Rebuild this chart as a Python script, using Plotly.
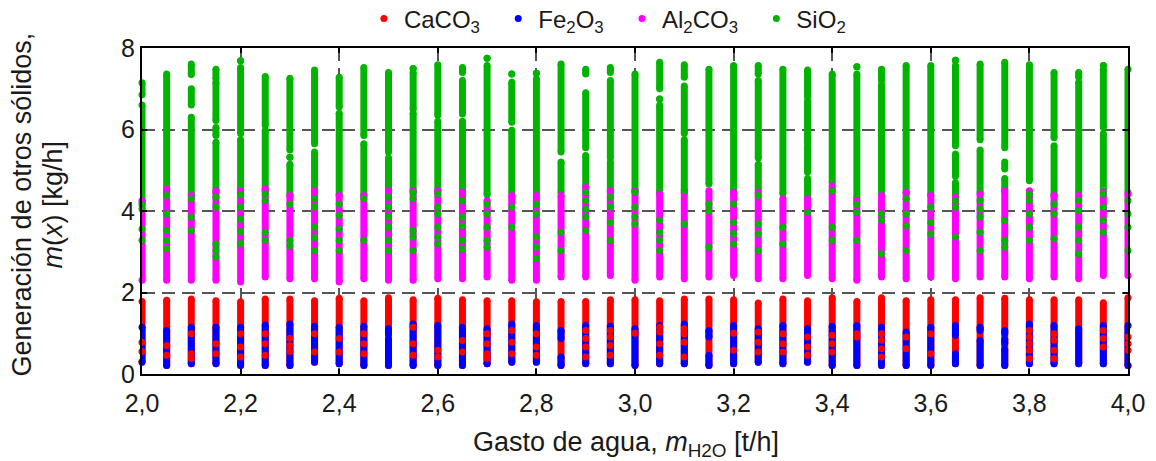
import plotly.graph_objects as go

# Water flow rate [t/h] (one column of results per flow value)
x_vals = [2.00, 2.05, 2.10, 2.15, 2.20, 2.25, 2.30, 2.35, 2.40, 2.45,
          2.50, 2.55, 2.60, 2.65, 2.70, 2.75, 2.80, 2.85, 2.90, 2.95,
          3.00, 3.05, 3.10, 3.15, 3.20, 3.25, 3.30, 3.35, 3.40, 3.45,
          3.50, 3.55, 3.60, 3.65, 3.70, 3.75, 3.80, 3.85, 3.90, 3.95, 4.00]

# SiO2: dense runs of results [low, high] per flow value
sio2_runs = [
    [[4.20, 6.60], [6.85, 7.15]],
    [[4.45, 7.36]],
    [[4.40, 6.30], [6.60, 7.00], [7.35, 7.61]],
    [[4.45, 5.69], [5.85, 6.05], [6.22, 7.16], [7.24, 7.48]],
    [[4.45, 5.75], [5.90, 7.52], [7.69, 7.69]],
    [[4.50, 5.98], [6.10, 7.30]],
    [[4.40, 5.15], [5.32, 5.32], [5.50, 7.26]],
    [[4.45, 5.45], [5.65, 7.46]],
    [[4.40, 6.40], [6.55, 7.28]],
    [[4.40, 5.65], [5.85, 7.52]],
    [[4.50, 5.30], [5.45, 7.40]],
    [[4.50, 6.40], [6.50, 7.40], [7.50, 7.50]],
    [[4.50, 6.20], [6.35, 7.59]],
    [[4.50, 6.20], [6.38, 7.20], [7.40, 7.52]],
    [[4.40, 7.57], [7.75, 7.75]],
    [[4.45, 5.98], [6.18, 7.16], [7.36, 7.36]],
    [[4.45, 7.24], [7.38, 7.38]],
    [[4.45, 5.20], [5.45, 7.61]],
    [[4.60, 5.36], [5.55, 6.90], [7.36, 7.48]],
    [[4.50, 5.20], [5.30, 7.20], [7.40, 7.52]],
    [[4.50, 7.36]],
    [[4.45, 6.60], [6.75, 6.75], [7.00, 7.65]],
    [[4.50, 5.75], [5.90, 7.07], [7.28, 7.59]],
    [[4.66, 7.48]],
    [[4.50, 7.57]],
    [[4.50, 5.15], [5.30, 7.20], [7.36, 7.57]],
    [[4.42, 7.48]],
    [[4.30, 4.80], [4.95, 5.57], [5.65, 6.70], [6.80, 7.46]],
    [[4.70, 7.36]],
    [[4.30, 7.36], [7.54, 7.54]],
    [[4.30, 7.10], [7.20, 7.48]],
    [[4.45, 7.57]],
    [[4.40, 7.57]],
    [[4.40, 4.70], [4.85, 5.40], [5.60, 7.57], [7.70, 7.70]],
    [[4.45, 5.50], [5.75, 7.61]],
    [[4.50, 4.80], [5.03, 5.20], [5.55, 7.65]],
    [[4.74, 7.59]],
    [[4.40, 5.60], [5.80, 7.40]],
    [[4.45, 7.16], [7.28, 7.40]],
    [[4.50, 5.90], [6.05, 7.48], [7.57, 7.57]],
    [[4.45, 7.48]],
]

# Al2CO3: [low, high] per flow value
al2co3_runs = [
    [[2.30, 4.25]], [[2.30, 4.54]], [[2.30, 4.38]], [[2.30, 4.50]], [[2.26, 4.50]],
    [[2.38, 4.55]], [[2.34, 4.38]], [[2.34, 4.50]], [[2.26, 4.38]], [[2.34, 4.38]],
    [[2.30, 4.50]], [[2.30, 4.50]], [[2.34, 4.50]], [[2.34, 4.46]], [[2.38, 4.26]],
    [[2.30, 4.38]], [[2.30, 4.38]], [[2.38, 4.38]], [[2.38, 4.58]], [[2.42, 4.50]],
    [[2.30, 4.50]], [[2.38, 4.42]], [[2.34, 4.46]], [[2.38, 4.50]], [[2.42, 4.46]],
    [[2.34, 4.46]], [[2.34, 4.30]], [[2.42, 4.30]], [[2.34, 4.62]], [[2.30, 4.26]],
    [[2.38, 4.38]], [[2.34, 4.46]], [[2.38, 4.38]], [[2.34, 4.34]], [[2.38, 4.42]],
    [[2.38, 4.50]], [[2.34, 4.50]], [[2.38, 4.38]], [[2.34, 4.38]], [[2.42, 4.46]],
    [[2.42, 4.42]],
]

# SiO2 results lying inside the Al2CO3 band
sio2_low_dots = [
    [4.15, 4.05, 3.56, 3.28],
    [4.38, 3.93, 3.52, 3.28, 3.07],
    [4.30, 3.85, 3.52],
    [4.34, 4.09, 3.19, 3.03, 2.87],
    [4.40, 4.10, 3.80, 3.50, 3.20],
    [4.42, 4.26, 3.48, 3.28],
    [4.17, 3.28, 3.15],
    [4.30, 4.10, 3.60, 3.35, 3.03],
    [4.17, 3.89, 3.56, 3.28, 3.03],
    [4.30, 3.28],
    [4.34, 4.09, 3.85, 3.60, 3.28, 3.03],
    [4.45, 4.30, 3.52, 3.36, 3.03],
    [4.42, 4.09, 3.93, 3.60, 3.36, 3.19],
    [4.26, 3.85, 3.64, 3.28, 3.07],
    [4.17, 3.93, 3.60, 3.28, 3.11],
    [4.09, 3.60],
    [4.17, 3.93, 3.36, 3.11, 2.83],
    [3.48, 3.03],
    [4.46, 4.26, 4.05, 3.85, 3.52],
    [4.34, 4.10, 3.72, 3.28],
    [4.46, 4.09, 3.85, 3.68],
    [3.77, 3.48, 3.28, 3.03],
    [4.50, 3.68],
    [4.17, 4.00, 3.11],
    [4.17, 3.72, 3.44, 3.19],
    [4.38, 3.68, 3.44, 3.03],
    [3.60, 3.19],
    [3.97],
    [4.50, 3.60, 3.28],
    [4.17, 3.97, 3.28],
    [3.93, 3.77, 2.95],
    [4.30, 3.93, 3.64, 3.03],
    [4.09, 3.72, 3.44],
    [4.26, 4.09, 3.36],
    [4.26, 4.05, 3.85, 3.48, 3.03],
    [3.77, 3.28, 3.11],
    [4.42, 4.26, 3.93, 3.60, 3.28],
    [4.17, 3.93, 3.32],
    [4.26, 4.01, 3.60, 3.28, 2.95],
    [4.42, 4.09, 3.77, 3.48],
    [4.26, 3.93, 3.60, 3.03],
]

# CaCO3: [low, high] per flow value
caco3_runs = [
    [[0.30, 1.78]], [[0.21, 1.81]], [[0.25, 1.84]], [[0.25, 1.80]], [[0.21, 1.77]],
    [[0.21, 1.84]], [[0.21, 1.84]], [[0.29, 1.80]], [[0.25, 1.86]], [[0.21, 1.80]],
    [[0.21, 1.87]], [[0.21, 1.82]], [[0.21, 1.86]], [[0.21, 1.82]], [[0.25, 1.80]],
    [[0.29, 1.80]], [[0.29, 1.77]], [[0.21, 1.78]], [[0.25, 1.78]], [[0.25, 1.82]],
    [[0.21, 1.82]], [[0.25, 1.80]], [[0.25, 1.84]], [[0.21, 1.84]], [[0.25, 1.82]],
    [[0.29, 1.74]], [[0.25, 1.84]], [[0.29, 1.80]], [[0.21, 1.87]], [[0.21, 1.78]],
    [[0.21, 1.87]], [[0.21, 1.80]], [[0.21, 1.82]], [[0.25, 1.82]], [[0.21, 1.87]],
    [[0.21, 1.86]], [[0.25, 1.82]], [[0.25, 1.82]], [[0.25, 1.82]], [[0.25, 1.75]],
    [[0.21, 1.87]],
]

# Fe2O3: [low, high] per flow value
fe2o3_runs = [
    [[0.29, 1.15]], [[0.21, 1.07]], [[0.25, 1.15]], [[0.25, 1.15]], [[0.21, 1.15]],
    [[0.21, 1.20]], [[0.21, 1.23]], [[0.29, 1.17]], [[0.25, 1.15]], [[0.21, 1.17]],
    [[0.21, 0.85], [0.99, 1.11]], [[0.21, 1.23]], [[0.21, 1.19]], [[0.21, 1.15]], [[0.25, 1.11]],
    [[0.29, 1.23]], [[0.29, 1.19]], [[0.21, 0.42], [0.87, 1.07]], [[0.25, 1.19]], [[0.25, 1.17]],
    [[0.21, 1.11]], [[0.25, 1.19]], [[0.25, 1.23]], [[0.21, 0.46], [0.91, 1.07]], [[0.25, 1.19]],
    [[0.29, 1.11]], [[0.25, 1.19]], [[0.29, 1.11]], [[0.21, 1.17]], [[0.21, 1.19]],
    [[0.21, 1.15]], [[0.21, 1.03]], [[0.21, 1.15]], [[0.25, 0.50], [0.95, 1.19]], [[0.21, 0.82], [1.07, 1.15]],
    [[0.21, 0.60], [0.75, 0.85], [1.00, 1.07]], [[0.25, 1.23]], [[0.25, 1.19]], [[0.25, 1.11]], [[0.25, 1.19]],
    [[0.21, 1.19]],
]

# CaCO3 results lying inside the Fe2O3 band
caco3_low_dots = [
    [0.78, 0.55], [0.70, 0.46], [0.99, 0.50, 0.38], [0.74, 0.50], [0.99, 0.66, 0.42],
    [0.99, 0.74, 0.46], [0.88, 0.70, 0.55], [0.99, 0.54], [0.87, 0.54], [0.99, 0.74, 0.50],
    [], [1.15, 0.74, 0.46], [0.58, 0.42], [0.82, 0.54], [0.99, 0.74, 0.50, 0.38],
    [1.07, 0.78, 0.50], [0.99, 0.66, 0.46], [], [1.07, 0.87, 0.66, 0.42], [1.07, 0.91, 0.70, 0.46],
    [1.00], [1.15, 1.03, 0.74, 0.46], [1.11, 0.99, 0.78, 0.42], [], [1.00, 0.58],
    [1.03, 0.78, 0.54], [0.99, 0.74, 0.54], [0.91, 0.66, 0.46], [0.95, 0.74, 0.54], [0.99, 0.91],
    [0.99, 0.83, 0.62, 0.42], [0.91, 0.62], [0.99, 0.50], [], [],
    [], [1.07, 0.91, 0.74, 0.58, 0.38], [0.99, 0.83, 0.58, 0.38], [], [1.07, 0.87, 0.66],
    [0.91, 0.74, 0.58],
]

series_names = ["CaCO<sub>3</sub>", "Fe<sub>2</sub>O<sub>3</sub>",
                "Al<sub>2</sub>CO<sub>3</sub>", "SiO<sub>2</sub>"]
series_colors = ["#ff0000", "#0000ff", "#ff00ff", "#00b400"]

x_ticks = [2.0, 2.2, 2.4, 2.6, 2.8, 3.0, 3.2, 3.4, 3.6, 3.8, 4.0]
y_ticks = [0, 2, 4, 6, 8]

DOT = 7
FONT = "Liberation Sans, Arial, sans-serif"
INK = "#1a1a1a"
NBSP = "\u00a0"


def run_trace(runs_per_col, color):
    xs, ys = [], []
    for xv, runs in zip(x_vals, runs_per_col):
        for lo, hi in runs:
            xs += [xv, xv, None]
            ys += [lo, hi, None]
    return go.Scatter(x=xs, y=ys, mode="lines+markers",
                      line=dict(color=color, width=DOT),
                      marker=dict(color=color, size=DOT),
                      cliponaxis=False, showlegend=False, hoverinfo="skip")


def dot_trace(dots_per_col, color):
    xs, ys = [], []
    for xv, dots in zip(x_vals, dots_per_col):
        for v in dots:
            xs.append(xv)
            ys.append(v)
    return go.Scatter(x=xs, y=ys, mode="markers",
                      marker=dict(color=color, size=DOT),
                      cliponaxis=False, showlegend=False, hoverinfo="skip")


red, blue, magenta, green = series_colors

fig = go.Figure()
fig.add_trace(run_trace(sio2_runs, green))
fig.add_trace(run_trace(al2co3_runs, magenta))
fig.add_trace(dot_trace(sio2_low_dots, green))
fig.add_trace(run_trace(caco3_runs, red))
fig.add_trace(run_trace(fe2o3_runs, blue))
fig.add_trace(dot_trace(caco3_low_dots, red))

# legend entries
for i, (name, color) in enumerate(zip(series_names, series_colors)):
    pad = NBSP * 2 if i < len(series_names) - 1 else ""
    fig.add_trace(go.Scatter(x=[None], y=[None], mode="markers", name=name + pad,
                             marker=dict(color=color, size=DOT)))

axis_common = dict(
    showline=True, linecolor="black", linewidth=2, mirror="ticks",
    ticks="inside", ticklen=5, tickwidth=1.5, tickcolor="black",
    showgrid=True, gridcolor="#555555", gridwidth=1.5, griddash="13px,7px",
    zeroline=False, tickfont=dict(size=25, color=INK, family=FONT),
)

fig.update_xaxes(range=[2.0, 4.0], tickvals=x_ticks,
                 ticktext=[f"{t:.1f}".replace(".", ",") for t in x_ticks],
                 ticklabelstandoff=6, **axis_common)
fig.update_yaxes(range=[0, 8], tickvals=y_ticks,
                 ticktext=[str(t) for t in y_ticks], **axis_common)

# x-axis title
fig.add_annotation(text="Gasto de agua, <i>m</i><sub>H2O</sub> [t/h]",
                   xref="paper", yref="paper", x=0.491, y=-0.214,
                   xanchor="center", yanchor="middle", showarrow=False,
                   font=dict(size=27, color=INK, family=FONT))

# two-line y-axis title
fig.add_annotation(text="Generación de otros sólidos,", textangle=-90,
                   xref="paper", yref="paper", x=0, y=0.52, xshift=-120,
                   xanchor="center", yanchor="middle", showarrow=False,
                   font=dict(size=27, color=INK, family=FONT))
fig.add_annotation(text="<i>m</i>(<i>x</i>) [kg/h]", textangle=-90,
                   xref="paper", yref="paper", x=0, y=0.52, xshift=-89,
                   xanchor="center", yanchor="middle", showarrow=False,
                   font=dict(size=27, color=INK, family=FONT))

fig.update_layout(
    width=1156, height=461,
    margin=dict(l=142, r=28, t=48, b=87, autoexpand=False),
    paper_bgcolor="white", plot_bgcolor="white",
    font=dict(family=FONT, color=INK),
    legend=dict(orientation="h", x=0.472, xanchor="center", y=1.158, yanchor="top",
                font=dict(size=24, family=FONT, color=INK),
                bgcolor="rgba(0,0,0,0)", itemwidth=30),
)

fig.write_html("out.html")
